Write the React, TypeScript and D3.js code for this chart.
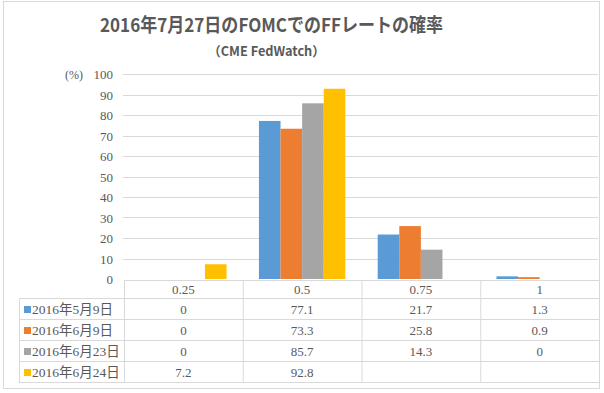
import React from 'react';
import * as d3 from 'd3';

const categories = ['0.25', '0.5', '0.75', '1'];
const seriesNames = ['2016年5月9日', '2016年6月9日', '2016年6月23日', '2016年6月24日'];
const seriesColors = ['#5B9BD5', '#ED7D31', '#A5A5A5', '#FFC000'];
const may9 = [0, 77.1, 21.7, 1.3];
const jun9 = [0, 73.3, 25.8, 0.9];
const jun23 = [0, 85.7, 14.3, 0];
const jun24: (number | null)[] = [7.2, 92.8, null, null];
const yTicks = [0, 10, 20, 30, 40, 50, 60, 70, 80, 90, 100];

const allSeries = [may9, jun9, jun23, jun24];

const W = 604;
const H = 393;
const labelFont = '"Liberation Serif", "Noto Sans CJK JP", serif';
const titleFont = '"Noto Sans CJK JP", "Liberation Sans", sans-serif';
const gridColor = '#D9D9D9';
const textColor = '#595959';

const App: React.FC = () => {
  // plot area
  const left = 124;
  const right = 599;
  const top = 74;
  const bottom = 279;

  const x = d3.scaleBand<string>().domain(categories).range([left, right]);
  const xs = d3
    .scaleBand<string>()
    .domain(seriesNames)
    .range([0, x.bandwidth()])
    .paddingOuter(0.75);
  const y = d3.scaleLinear().domain([0, 100]).range([bottom, top]);

  // table geometry
  const tableLeft = 19;
  const headerTop = 280;
  const headerBottom = 298;
  const rowH = 21;
  const tableBottom = headerBottom + rowH * seriesNames.length;

  return (
    <svg width={W} height={H} style={{ position: 'absolute', left: 0, top: 0 }}>
      <rect x={0} y={0} width={W} height={H} fill="#fff" />
      <rect x={3.5} y={1.5} width={596} height={387} fill="none" stroke={gridColor} strokeWidth={1} />

      {/* title */}
      <text
        x={100}
        y={32}
        textLength={343}
        lengthAdjust="spacingAndGlyphs"
        fontFamily={titleFont}
        fontWeight="bold"
        fontSize={19}
        fill={textColor}
      >
        2016年7月27日のFOMCでのFFレートの確率
      </text>
      <text
        x={208}
        y={56}
        textLength={117}
        lengthAdjust="spacingAndGlyphs"
        fontFamily={titleFont}
        fontWeight="bold"
        fontSize={13}
        fill={textColor}
      >
        （CME FedWatch）
      </text>

      {/* gridlines + y ticks */}
      {yTicks.map((t) => (
        <g key={t}>
          {t > 0 && (
            <line x1={left - 1} x2={right - 1} y1={Math.round(y(t)) + 0.5} y2={Math.round(y(t)) + 0.5} stroke={gridColor} />
          )}
          <text x={113} y={y(t) + 5} textAnchor="end" fontFamily={labelFont} fontSize={13} fill={textColor}>
            {t}
          </text>
        </g>
      ))}
      <text x={65} y={79} fontFamily={labelFont} fontSize={12} fill={textColor}>
        (%)
      </text>

      {/* bars */}
      {allSeries.map((vals, si) =>
        vals.map((v, ci) =>
          v == null || v === 0 ? null : (
            <rect
              key={`${si}-${ci}`}
              x={(x(categories[ci]) ?? 0) + (xs(seriesNames[si]) ?? 0)}
              y={y(v)}
              width={xs.bandwidth()}
              height={bottom - y(v)}
              fill={seriesColors[si]}
            />
          )
        )
      )}

      {/* data table */}
      <line x1={left} x2={right} y1={headerTop + 0.5} y2={headerTop + 0.5} stroke={gridColor} />
      {d3.range(seriesNames.length + 1).map((i) => (
        <line
          key={`h${i}`}
          x1={tableLeft}
          x2={right}
          y1={headerBottom + i * rowH + 0.5}
          y2={headerBottom + i * rowH + 0.5}
          stroke={gridColor}
        />
      ))}
      <line x1={tableLeft + 0.5} x2={tableLeft + 0.5} y1={headerBottom} y2={tableBottom} stroke={gridColor} />
      {[...categories.map((c) => x(c) ?? 0), right].map((xx, i) => (
        <line key={`v${i}`} x1={xx + 0.5} x2={xx + 0.5} y1={headerTop} y2={tableBottom} stroke={gridColor} />
      ))}
      {categories.map((c) => (
        <text
          key={`c${c}`}
          x={(x(c) ?? 0) + x.bandwidth() / 2}
          y={headerTop + 14}
          textAnchor="middle"
          fontFamily={labelFont}
          fontSize={13}
          fill={textColor}
        >
          {c}
        </text>
      ))}
      {seriesNames.map((s, si) => {
        const rowY = headerBottom + si * rowH;
        return (
          <g key={s}>
            <rect x={24} y={rowY + 8} width={7} height={7} fill={seriesColors[si]} />
            <text x={32} y={rowY + 15.5} fontFamily={labelFont} fontSize={13.5} fill={textColor}>
              {s}
            </text>
            {allSeries[si].map((v, ci) =>
              v == null ? null : (
                <text
                  key={ci}
                  x={(x(categories[ci]) ?? 0) + x.bandwidth() / 2}
                  y={rowY + 15.5}
                  textAnchor="middle"
                  fontFamily={labelFont}
                  fontSize={13}
                  fill={textColor}
                >
                  {v}
                </text>
              )
            )}
          </g>
        );
      })}
    </svg>
  );
};

export default App;
